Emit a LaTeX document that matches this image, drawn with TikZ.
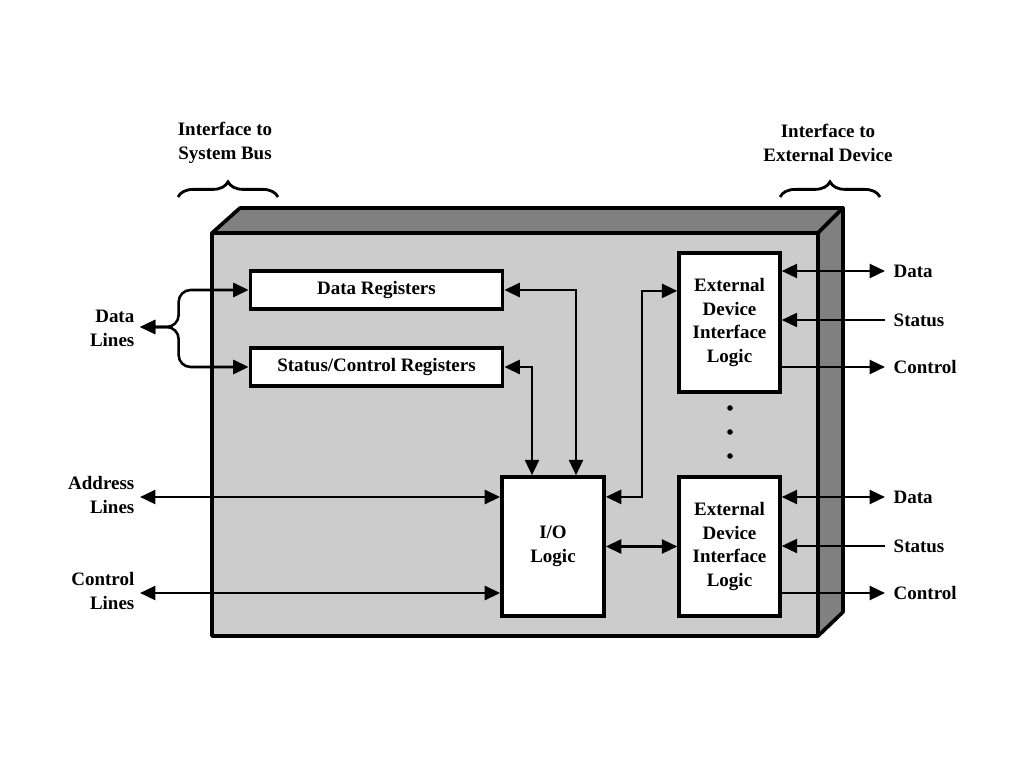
\documentclass[tikz,border=0pt]{standalone}
\usepackage{fontspec}
\setmainfont{Liberation Serif}
\usetikzlibrary{arrows.meta, positioning, calc, decorations.pathreplacing}

\begin{document}
\begin{tikzpicture}[
  x=0.025cm, y=-0.025cm,
  face/.style={draw=black, line width=2.6pt, line join=round},
  unit/.style={rectangle, draw=black, fill=white, line width=2.6pt, align=center, font=\bfseries\fontsize{13.5}{17}\selectfont, inner sep=2pt},
  lbl/.style={font=\bfseries\fontsize{13.5}{17}\selectfont, inner sep=1pt},
  bus/.style={line width=1.8pt, {Triangle[length=11pt,width=10pt]}-{Triangle[length=11pt,width=10pt]}},
  sig/.style={line width=1.8pt, -{Triangle[length=11pt,width=10pt]}},
  brc/.style={line width=2pt, decorate, decoration={brace, amplitude=0.38cm}}
]
  \useasboundingbox (0,0) rectangle (1024,768);
  \draw[face, fill=black!50] (212,233) -- (240,208) -- (843,208) -- (818,233) -- cycle;
  \draw[face, fill=black!50] (818,233) -- (843,208) -- (843,612) -- (818,636) -- cycle;
  \draw[face, fill=black!20] (212,233) rectangle (818,636);

  \node[unit, minimum width=6.3cm, minimum height=0.95cm](dreg) at (376.5,290) {Data Registers};
  \node[unit, minimum width=6.3cm, minimum height=0.95cm](sreg) at (376.5,367) {Status/Control Registers};
  \node[unit, minimum width=2.55cm, minimum height=3.47cm](io) at (553,546.5) {I/O\\Logic};
  \node[unit, minimum width=2.52cm, minimum height=3.47cm](exta) at (729.5,322.5) {External\\Device\\Interface\\Logic};
  \node[unit, minimum width=2.52cm, minimum height=3.47cm](extb) at (729.5,546.5) {External\\Device\\Interface\\Logic};
  \foreach \y in {408,432,456} \fill (730,\y) circle (2.8);

  \draw[bus](dreg.east) -| ([xshift=0.575cm]io.north);
  \draw[bus](sreg.east) -| ([xshift=-0.525cm]io.north);
  \draw[bus]([yshift=1.24cm]io.east) -- ++(36,0) |- ([yshift=0.79cm]exta.west);
  \draw[bus](io.east) -- (extb.west);

  \coordinate (dl) at (140,327);
  \coordinate (al) at (140,497);
  \coordinate (cl) at (140,593);
  \draw[bus, rounded corners=0.3cm](dl) -| ([xshift=-1.75cm]dreg.west) -- (dreg.west);
  \draw[bus, rounded corners=0.3cm](dl) -| ([xshift=-1.75cm]sreg.west) -- (sreg.west);
  \draw[bus](al) -- (io.west |- al);
  \draw[bus](cl) -- (io.west |- cl);
  \node[lbl, anchor=east, align=right](dlt) at (136,328) {Data\\Lines};
  \node[lbl, anchor=east, align=right](alt) at (136,495) {Address\\Lines};
  \node[lbl, anchor=east, align=right](clt) at (136,591) {Control\\Lines};

  \foreach \n/\da/\st/\co in {exta/271/320/367, extb/497/546/593} {
    \coordinate (d\n) at (885,\da);
    \coordinate (s\n) at (885,\st);
    \coordinate (c\n) at (885,\co);
    \draw[bus](\n.east |- d\n) -- (d\n);
    \draw[sig](s\n) -- (\n.east |- s\n);
    \draw[sig](\n.east |- c\n) -- (c\n);
    \node[lbl, anchor=west] at (892,\da) {Data};
    \node[lbl, anchor=west] at (892,\st) {Status};
    \node[lbl, anchor=west] at (892,\co) {Control};
  }

  \node[lbl, align=center](sysbus) at (225,143) {Interface to\\System Bus};
  \node[lbl, align=center](extdev) at (828,143) {Interface to\\External Device};
  \draw[brc] (178,197) -- (278,197);
  \draw[brc] (780,197) -- (880,197);
\end{tikzpicture}
\end{document}
